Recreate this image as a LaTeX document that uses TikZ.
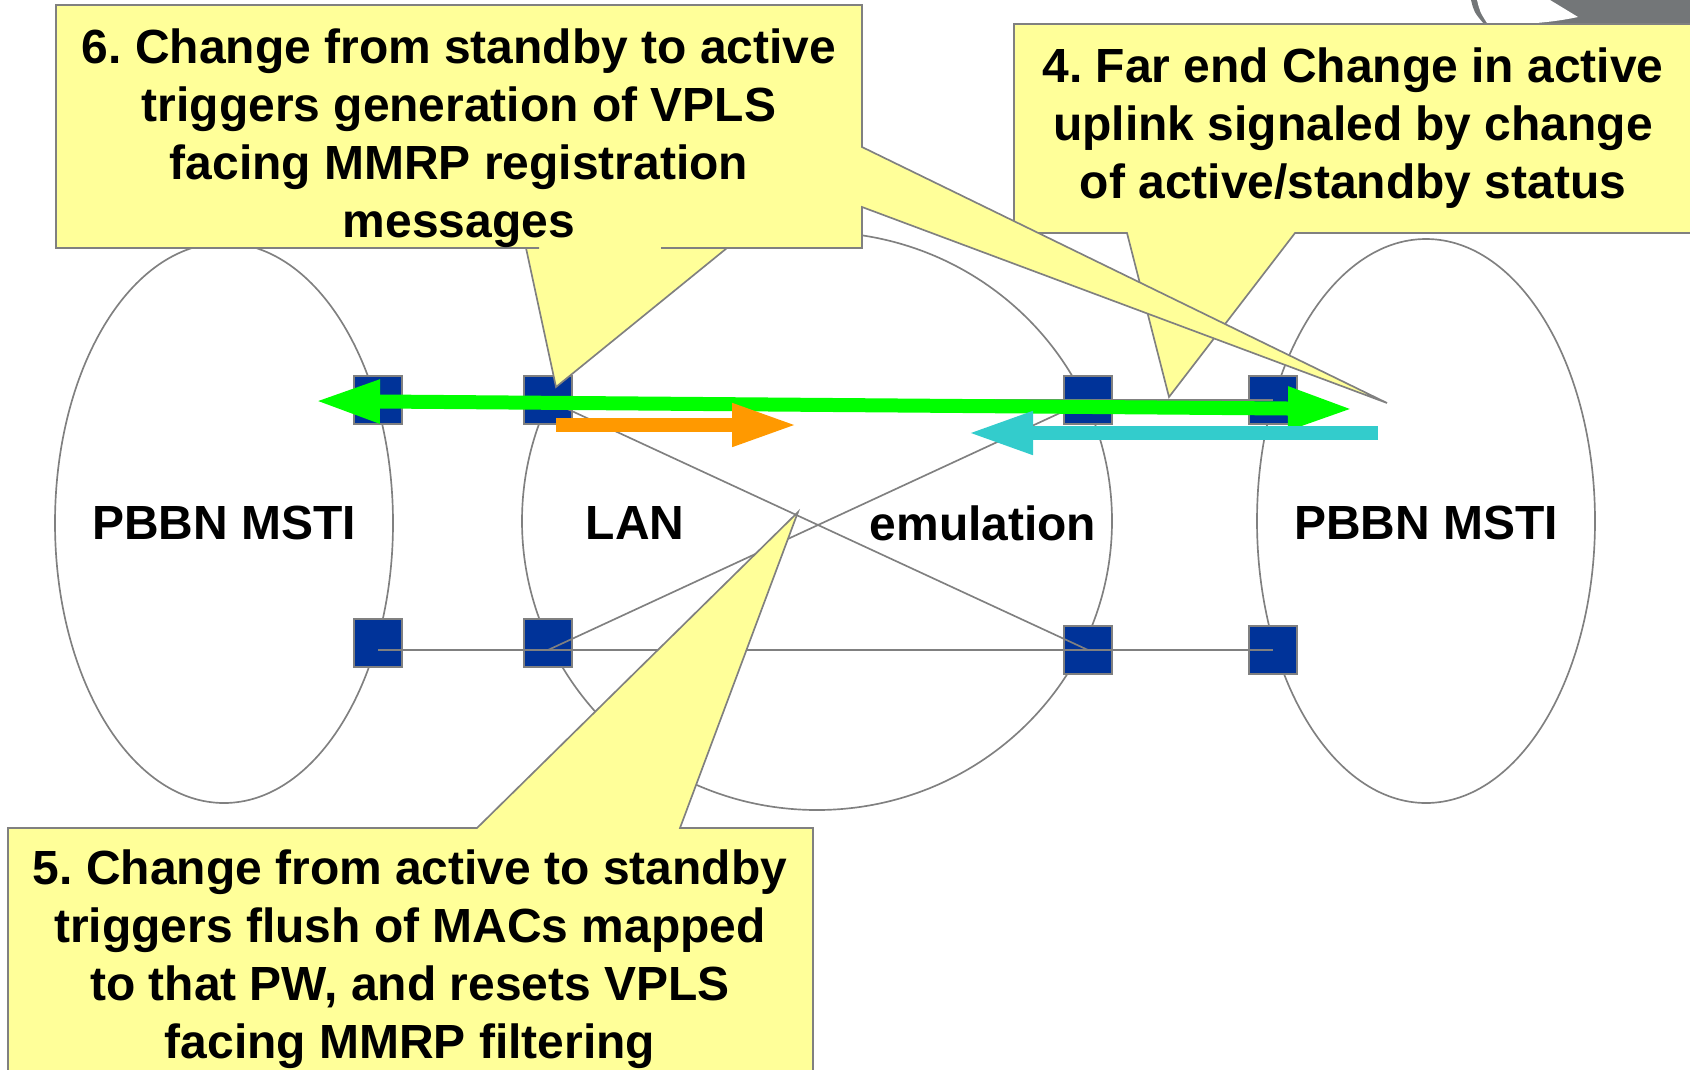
\documentclass[tikz,border=0pt]{standalone}
\usepackage{fontspec}
\setmainfont{Liberation Sans}
\frenchspacing
\usetikzlibrary{arrows.meta}
\definecolor{calloutyellow}{HTML}{FFFF99}
\definecolor{wiregray}{HTML}{808080}
\definecolor{portblue}{HTML}{003399}
\definecolor{activegreen}{HTML}{00FF00}
\definecolor{flushorange}{HTML}{FF9900}
\definecolor{signalcyan}{HTML}{33CCCC}
\definecolor{cornergray}{HTML}{737678}

\tikzset{
  bigtip/.tip={Triangle[length=1.3cm, width=0.8cm]},
  wire/.style={draw=wiregray, line width=0.95pt},
  port/.style={draw=wiregray, fill=portblue, line width=0.95pt, minimum size=0.96cm, inner sep=0pt},
  domainlabel/.style={font=\fontsize{27.3}{33}\selectfont\bfseries},
  notetext/.style={align=center, font=\fontsize{27.3}{33}\selectfont\bfseries},
  callout/.style={fill=calloutyellow},
  calloutedge/.style={draw=wiregray, line width=0.95pt, line join=miter},
  flow/.style={line width=0.27cm, -bigtip},
}

\begin{document}
\begin{tikzpicture}[x=0.02cm, y=-0.02cm]
  \useasboundingbox (0,0) rectangle (1690,1069);
  \clip (0,0) rectangle (1690,1069);

  % Corner graphic (cut off at the top edge)
  \fill[cornergray] (1471,0) .. controls (1474,12) .. (1484,24) -- (1690,24) -- (1690,0) -- cycle;
  \fill[white] (1477,0) .. controls (1480,12) .. (1487,23) .. controls (1520,26) and (1555,22) .. (1578,17) -- (1550,0) -- cycle;

  % Domains
  \draw[wire] (224,523) ellipse [x radius=169, y radius=280];
  \draw[wire] (817,521) ellipse [x radius=295, y radius=289];
  \draw[wire] (1426,521) ellipse [x radius=169, y radius=282];

  \node[domainlabel] (leftmsti) at (224,523) {PBBN MSTI};
  \node[domainlabel] (lanlabel) at (635,523) {LAN};
  \node[domainlabel] (emulabel) at (983,523) {emulation};
  \node[domainlabel] (rightmsti) at (1426,523) {PBBN MSTI};

  % Ports
  \foreach \n/\x/\y in {tl1/378/400, tl2/548/400, tr1/1088/400, tr2/1273/400,
                        bl1/378/643, bl2/548/643, br1/1088/650, br2/1273/650} {
    \node[port] (\n) at (\x,\y) {};
  }

  % Links between ports
  \draw[wire] (tl1.center) -- (tr2.center);
  \draw[wire] (bl1.center |- br2.center) -- (br2.center);
  \draw[wire] (bl2.center |- br2.center) -- (tr1.center);
  \draw[wire] (tl2.center) -- (br1.center);

  % Signalling arrows
  \coordinate (greenL) at (315,401);
  \coordinate (greenR) at (1353,409);
  \coordinate (orangeS) at (556,425);
  \coordinate (orangeE) at (797,425);
  \coordinate (cyanS) at (1378,433);
  \coordinate (cyanE) at (968,433);

  \draw[activegreen, line width=0.28cm, bigtip-bigtip] (greenL) -- (greenR);
  \draw[flushorange, flow] (orangeS) -- (orangeE);
  \draw[signalcyan, flow] (cyanS) -- (cyanE);

  % Callout 5
  \filldraw[callout, calloutedge] (8,828) -- (477,828) -- (798,512) -- (680,828) -- (813,828)
    -- (813,1090) -- (8,1090) -- cycle;
  \node[notetext] (note5) at (410,959) {5. Change from active to standby\\triggers flush of MACs mapped\\to that PW, and resets VPLS\\facing MMRP filtering};

  % Callout 4
  \filldraw[callout, calloutedge] (1014,24) -- (1700,24) -- (1700,233) -- (1295,233) -- (1169,397)
    -- (1127,233) -- (1014,233) -- cycle;
  \node[notetext] (note4) at (1353,128) {4. Far end Change in active\\uplink signaled by change\\of active/standby status};

  % Callout 6 (two pointers)
  \fill[callout] (56,5) -- (862,5) -- (862,147) -- (1387,403) -- (862,207) -- (862,248) -- (727,248)
    -- (556,387) -- (526,248) -- (56,248) -- cycle;
  \draw[calloutedge] (539,248) -- (56,248) -- (56,5) -- (862,5) -- (862,147) -- (1387,403)
    -- (862,207) -- (862,248) -- (661,248);
  \draw[calloutedge] (526,248) -- (556,387) -- (727,248);
  \node[notetext] (note6) at (459,138) {6. Change from standby to active\\triggers generation of VPLS\\facing MMRP registration\\messages};
\end{tikzpicture}
\end{document}
